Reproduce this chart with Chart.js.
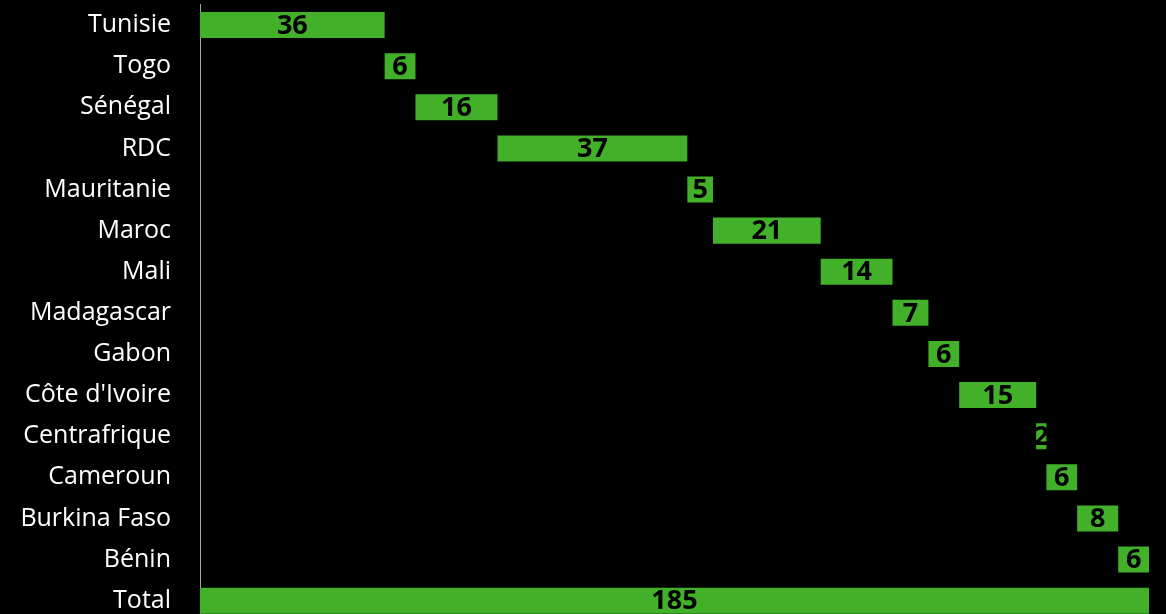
<!DOCTYPE html>
<html>
<head>
<meta charset="utf-8">
<script src="https://cdn.jsdelivr.net/npm/chart.js@4/dist/chart.umd.min.js"></script>
<style>
html,body{margin:0;padding:0;background:#000;overflow:hidden;}
#wrap{width:1166px;height:622px;position:relative;}
</style>
</head>
<body>
<div id="wrap"><canvas id="c" width="1166" height="622"></canvas></div>
<script>
const categories = ["Tunisie","Togo","Sénégal","RDC","Mauritanie","Maroc","Mali","Madagascar","Gabon","Côte d'Ivoire","Centrafrique","Cameroun","Burkina Faso","Bénin","Total"];
const values = [36,6,16,37,5,21,14,7,6,15,2,6,8,6,185];
const axisMax = 185;

// build floating ranges (waterfall)
const ranges = [];
let acc = 0;
for (let i = 0; i < values.length; i++) {
  if (categories[i] === "Total") { ranges.push([0, values[i]]); }
  else { ranges.push([acc, acc + values[i]]); acc += values[i]; }
}

const labelPlugin = {
  id: 'vlabels',
  afterDatasetsDraw(chart) {
    const ctx = chart.ctx;
    const meta = chart.getDatasetMeta(0);
    ctx.save();
    ctx.font = "bold 27px 'Open Sans'";
    ctx.fillStyle = "#000";
    ctx.textAlign = "center";
    ctx.textBaseline = "middle";
    meta.data.forEach((bar, i) => {
      const xs = (bar.x + bar.base) / 2;
      ctx.fillText(String(values[i]), xs, bar.y + 1);
    });
    ctx.restore();
  }
};

new Chart(document.getElementById('c'), {
  type: 'bar',
  data: {
    labels: categories,
    datasets: [{
      data: ranges,
      backgroundColor: '#43b02a',
      borderWidth: 0,
      barPercentage: 0.633,
      categoryPercentage: 1
    }]
  },
  options: {
    indexAxis: 'y',
    responsive: false,
    animation: false,
    layout: { padding: { top: 4.5, bottom: 0.8, right: 17, left: 0 } },
    plugins: { legend: { display: false }, tooltip: { enabled: false } },
    scales: {
      x: { display: false, min: 0, max: axisMax },
      y: {
        grid: { display: false, drawTicks: false },
        border: { display: true, color: '#a6a6a6', width: 1 },
        ticks: { color: '#ffffff', font: { family: "'Open Sans'", size: 25 }, padding: 29 },
        afterFit(scale) { scale.width = 200; scale.paddingTop = 0; scale.paddingBottom = 0; }
      }
    }
  },
  plugins: [labelPlugin]
});
</script>
</body>
</html>
